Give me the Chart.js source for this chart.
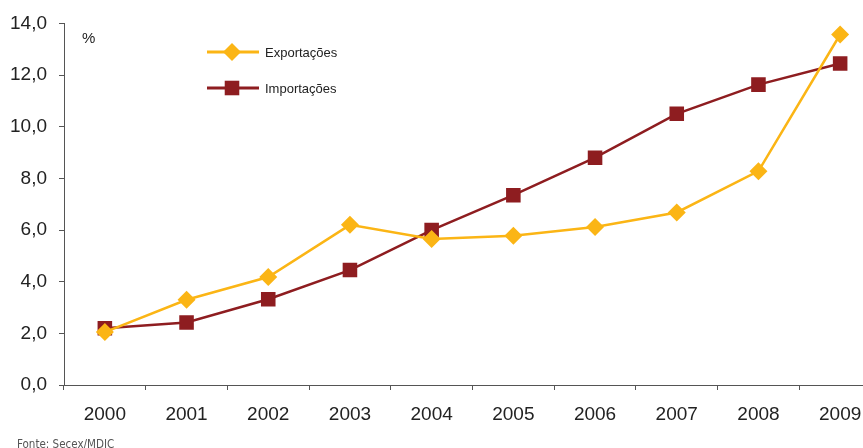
<!DOCTYPE html>
<html>
<head>
<meta charset="utf-8">
<script src="https://cdn.jsdelivr.net/npm/chart.js@4.4.1/dist/chart.umd.min.js"></script>
<style>
    html, body { margin: 0; padding: 0; background: #fff; overflow: hidden; }
    #wrap { width: 900px; height: 448px; position: relative; }
</style>
</head>
<body>
<div id="wrap"><canvas id="chart" width="900" height="448"></canvas></div>
<script>
const years = ["2000", "2001", "2002", "2003", "2004", "2005", "2006", "2007", "2008", "2009"];
const exportacoes = [2.05, 3.3, 4.18, 6.2, 5.65, 5.78, 6.12, 6.68, 8.28, 13.57];
const importacoes = [2.2, 2.42, 3.32, 4.45, 6.0, 7.35, 8.8, 10.5, 11.63, 12.45];
const yTickLabels = ["0,0", "2,0", "4,0", "6,0", "8,0", "10,0", "12,0", "14,0"];

const YELLOW = "#FBB515";
const RED = "#8E1D20";
const AXIS = "#555555";

// legend, unit label and source note drawn on top
const extras = {
    id: "extras",
    afterDraw(chart) {
        const ctx = chart.ctx;
        ctx.save();
        ctx.fillStyle = "#222";
        ctx.font = "15px 'Liberation Sans', Arial, sans-serif";
        ctx.textBaseline = "middle";
        ctx.fillText("%", 82, 39);

        const items = [
            { ds: chart.data.datasets[0], y: 52 },
            { ds: chart.data.datasets[1], y: 88 },
        ];
        items.forEach((it) => {
            ctx.strokeStyle = it.ds.borderColor;
            ctx.lineWidth = 3;
            ctx.beginPath();
            ctx.moveTo(207, it.y);
            ctx.lineTo(259, it.y);
            ctx.stroke();
            ctx.fillStyle = it.ds.pointBackgroundColor;
            Chart.helpers.drawPoint(ctx, {
                pointStyle: it.ds.pointStyle,
                radius: it.ds.pointRadius,
                borderWidth: 0,
            }, 232, it.y);
            ctx.fillStyle = "#222";
            ctx.font = "13px 'Liberation Sans', Arial, sans-serif";
            ctx.fillText(it.ds.label, 265, it.y + 1);
        });

        ctx.fillStyle = "#555";
        ctx.font = "11.5px 'DejaVu Sans Condensed', 'Liberation Sans Narrow', sans-serif";
        ctx.fillText("Fonte: Secex/MDIC", 17, 445);
        ctx.restore();
    },
};

const chart = new Chart(document.getElementById("chart"), {
    type: "line",
    data: {
        labels: years,
        datasets: [
            {
                label: "Exportações",
                data: exportacoes,
                borderColor: YELLOW,
                backgroundColor: YELLOW,
                pointBackgroundColor: YELLOW,
                pointBorderColor: YELLOW,
                pointStyle: "rectRot",
                pointRadius: 9,
                pointBorderWidth: 0,
                borderWidth: 2.5,
                tension: 0,
            },
            {
                label: "Importações",
                data: importacoes,
                borderColor: RED,
                backgroundColor: RED,
                pointBackgroundColor: RED,
                pointBorderColor: RED,
                pointStyle: "rect",
                pointRadius: 10.3,
                pointBorderWidth: 0,
                borderWidth: 2.5,
                tension: 0,
            },
        ],
    },
    options: {
        responsive: false,
        animation: false,
        layout: { padding: { top: 23, right: 19, left: 0, bottom: 0 } },
        plugins: { legend: { display: false }, tooltip: { enabled: false } },
        scales: {
            x: {
                offset: true,
                grid: {
                    offset: true,
                    drawOnChartArea: false,
                    drawTicks: true,
                    tickLength: 5,
                    color: AXIS,
                },
                border: { display: true, color: AXIS, width: 1 },
                ticks: {
                    color: "#222",
                    padding: 13,
                    maxRotation: 0,
                    font: { family: "'Liberation Sans', Arial, sans-serif", size: 19 },
                },
                afterFit(scale) { scale.height = 63; },
            },
            y: {
                min: 0,
                max: 14,
                ticks: {
                    stepSize: 2,
                    color: "#222",
                    padding: 12,
                    font: { family: "'Liberation Sans', Arial, sans-serif", size: 19 },
                    callback: (v, i) => yTickLabels[i],
                },
                grid: {
                    drawOnChartArea: false,
                    drawTicks: true,
                    tickLength: 5,
                    color: AXIS,
                },
                border: { display: true, color: AXIS, width: 1 },
                afterFit(scale) { scale.width = 64; },
            },
        },
    },
    plugins: [extras],
});
</script>
</body>
</html>
